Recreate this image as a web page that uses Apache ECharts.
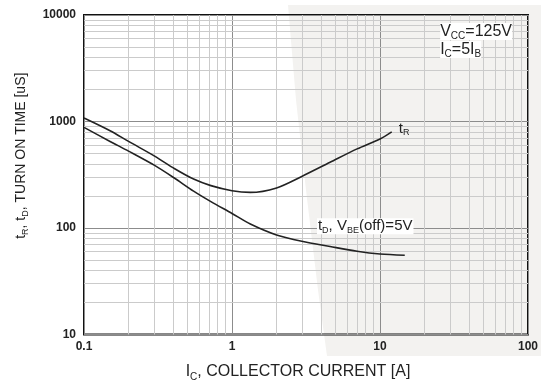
<!DOCTYPE html>
<html>
<head>
<meta charset="utf-8">
<script src="https://cdn.jsdelivr.net/npm/echarts@6/dist/echarts.min.js"></script>
<style>
  html, body { margin: 0; padding: 0; background: #fff; }
  #chart { width: 544px; height: 387px; }
</style>
</head>
<body>
<div id="chart"></div>
<script>
// collector current [A] vs turn on time [uS]
var trX = [0.1, 0.15, 0.2, 0.3, 0.41, 0.55, 0.72, 1.0, 1.33, 2.0, 2.96, 4.6, 7.0, 10, 12];
var trY = [1080, 820, 650, 473, 360, 288, 250, 224, 216, 238, 305, 414, 553, 686, 800];
var tdX = [0.1, 0.15, 0.2, 0.3, 0.41, 0.55, 0.72, 1.0, 1.33, 2.0, 2.96, 4.6, 7.0, 10, 14.7];
var tdY = [881, 650, 527, 387, 293, 222, 177, 137, 109, 86, 75, 67, 60.5, 57, 55.5];

var xMinor = [0.2, 0.3, 0.4, 0.5, 0.6, 0.7, 0.8, 0.9, 2, 3, 4, 5, 6, 7, 8, 9, 20, 30, 40, 50, 60, 70, 80, 90];
var yMinor = [20, 30, 40, 50, 60, 70, 80, 90, 200, 300, 400, 500, 600, 700, 800, 900, 2000, 3000, 4000, 5000, 6000, 7000, 8000, 9000];

var font = '"Liberation Sans", Arial, sans-serif';

function pairs(xs, ys) {
  return xs.map(function (x, i) { return [x, ys[i]]; });
}

function subRich(size, sub) {
  return {
    m: { fontSize: size, fontFamily: font, color: '#222', lineHeight: size + 1 },
    s: { fontSize: sub, fontFamily: font, color: '#222', lineHeight: sub, padding: [Math.round(size * 0.6), 0, 0, 0] }
  };
}

var minorLines = [];
xMinor.forEach(function (v) { minorLines.push({ xAxis: v }); });
yMinor.forEach(function (v) { minorLines.push({ yAxis: v }); });

var myChart = echarts.init(document.getElementById('chart'));
var option = {
  animation: false,
  graphic: [{
    type: 'polygon',
    z: -10,
    silent: true,
    shape: { points: [[288, 5], [541, 5], [541, 356], [327, 356], [318, 290], [306, 190], [296, 100]] },
    style: { fill: '#f3f2f0' }
  }],
  grid: {
    left: 84, top: 15, right: 16, bottom: 50,
    show: true, borderColor: '#111', borderWidth: 2, backgroundColor: 'transparent'
  },
  xAxis: {
    type: 'log', logBase: 10, min: 0.1, max: 100,
    axisLine: { show: false },
    axisTick: { show: false },
    splitLine: { show: true, lineStyle: { color: '#8c8c8c', width: 1 } },
    axisLabel: { fontFamily: font, fontWeight: 'bold', fontSize: 12, color: '#222', margin: 6 },
    name: '{m|I}{s|C}{m|, COLLECTOR CURRENT [A]}',
    nameLocation: 'middle', nameGap: 29,
    nameTextStyle: { rich: subRich(16, 10), padding: [0, 16, 0, 0] }
  },
  yAxis: {
    type: 'log', logBase: 10, min: 10, max: 10000,
    axisLine: { show: false },
    axisTick: { show: false },
    splitLine: { show: true, lineStyle: { color: '#8c8c8c', width: 1 } },
    axisLabel: {
      fontFamily: font, fontWeight: 'bold', fontSize: 12, color: '#222', margin: 8,
      formatter: function (v) { return String(v); }
    },
    name: '{m|t}{s|R}{m|, t}{s|D}{m|, TURN ON TIME [uS]}',
    nameLocation: 'middle', nameGap: 55,
    nameTextStyle: { rich: subRich(14, 9), padding: [0, 0, 0, 38] }
  },
  series: [
    {
      type: 'line', silent: true, data: [],
      markLine: {
        silent: true, symbol: 'none', label: { show: false },
        lineStyle: { color: '#cbcbcb', width: 1, type: 'solid' },
        data: minorLines
      }
    },
    {
      name: 'tR', type: 'line', smooth: 0.3, showSymbol: false, z: 5,
      lineStyle: { color: '#222', width: 1.6 },
      data: pairs(trX, trY),
      markPoint: {
        symbol: 'circle', symbolSize: 0,
        label: { show: true, position: 'right', distance: 0, formatter: '{m|t}{s|R}', rich: subRich(15, 9) },
        data: [{ coord: [13.4, 860] }]
      }
    },
    {
      name: 'tD', type: 'line', smooth: 0.3, showSymbol: false, z: 5,
      lineStyle: { color: '#222', width: 1.6 },
      data: pairs(tdX, tdY),
      markPoint: {
        symbol: 'circle', symbolSize: 0,
        label: {
          show: true, position: 'right', distance: 0,
          backgroundColor: '#fff', padding: [0, 1, 0, 1],
          formatter: '{m|t}{s|D}{m|, V}{s|BE}{m|(off)=5V}', rich: subRich(15, 9)
        },
        data: [{ coord: [3.75, 104] }]
      }
    },
    {
      type: 'line', silent: true, data: [],
      markPoint: {
        symbol: 'circle', symbolSize: 0,
        label: { show: true, position: 'right', distance: 0, backgroundColor: '#fff', rich: subRich(16, 10) },
        data: [
          { coord: [25.5, 7000], label: { formatter: '{m|V}{s|CC}{m|=125V}' } },
          { coord: [25.5, 4750], label: { formatter: '{m|I}{s|C}{m|=5I}{s|B}' } }
        ]
      }
    }
  ]
};
myChart.setOption(option);
window.addEventListener('resize', function () { myChart.resize(); });
</script>
</body>
</html>
